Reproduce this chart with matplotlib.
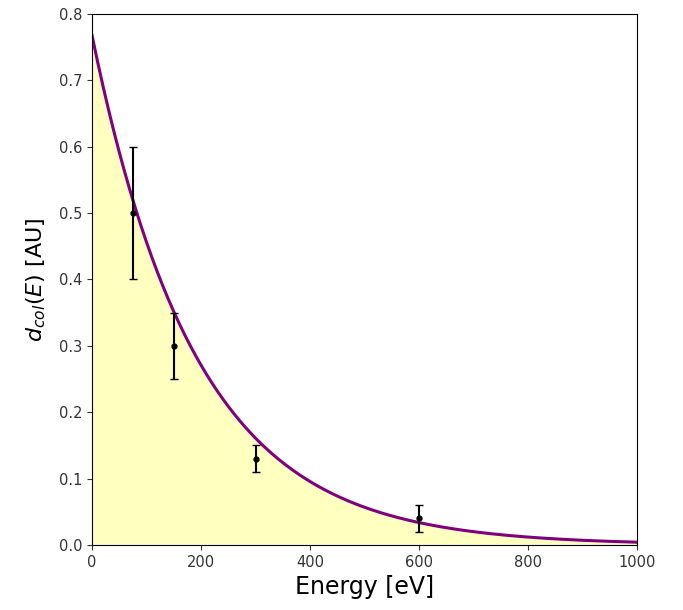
#!/usr/bin/env python3

import numpy as np
import matplotlib
matplotlib.use( 'Agg' )
import matplotlib.pyplot as plt

# measured points
energy = [ 75, 150, 300, 600 ]
dcol = [ 0.50, 0.30, 0.13, 0.04 ]
dcol_err = [ 0.10, 0.05, 0.02, 0.02 ]

# exponential fit: A * exp( -E / tau )
fit_amp = 0.768
fit_tau = 192.0

fig = plt.figure( figsize = ( 6.83, 6.10 ), dpi = 100 )
ax = fig.add_axes( [ 0.1347, 0.1066, 0.798, 0.8705 ] )

E = np.linspace( 0, 1000, 500 )
d = fit_amp * np.exp( -E / fit_tau )

ax.fill_between( E, 0, d, color = '#ffffbf', zorder = 1 )
ax.plot( E, d, color = 'purple', lw = 2.2, zorder = 2 )
ax.errorbar( energy, dcol, yerr = dcol_err, fmt = 'o', color = 'k', \
             ms = 3.5, capsize = 3, elinewidth = 1.5, zorder = 3 )

ax.set_xlim( 0, 1000 )
ax.set_ylim( 0, 0.8 )
ax.set_xlabel( 'Energy [eV]', fontsize = 17 )
ax.set_ylabel( r'$d_{col}(E)$ [AU]', fontsize = 16, labelpad = 8 )
ax.tick_params( labelsize = 10.5, colors = '#333333' )

fig.savefig( 'out.png', dpi = 100 )
